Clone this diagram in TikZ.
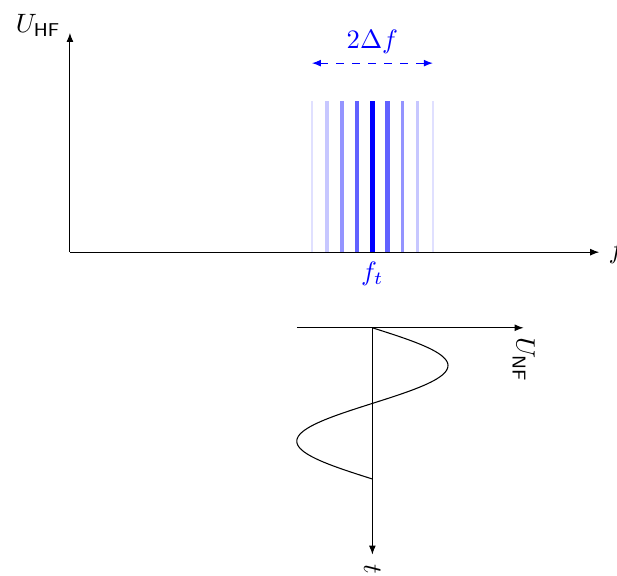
\documentclass[tikz,border=0pt]{standalone}
\usepackage{amsmath,amssymb}
\usepackage{tikz}
\usetikzlibrary{arrows.meta,positioning,calc}

\tikzset{
  axis/.style={-{Latex[length=3.4pt,width=2.6pt]}},
  spread/.style={blue,dashed,{Latex[length=3.4pt,width=2.6pt]}-{Latex[length=3.4pt,width=2.6pt]}},
}

\begin{document}
\begin{tikzpicture}[x=0.5cm,y=0.5cm]
  \useasboundingbox (-1.85,-8.55) rectangle (14.47,6.67);
  % spectrum lines around the carrier
  \foreach \k/\op/\lw in {-4/12/1.0,-3/22/1.15,-2/42/1.4,-1/62/1.65,0/100/2.0,1/62/1.65,2/42/1.4,3/22/1.15,4/12/1.0}
    \draw[blue!\op,line width=\lw pt] ({8+0.4*\k},0) -- ({8+0.4*\k},4);
  \coordinate (O) at (0,0);
  \coordinate (fend) at (14,0);
  \coordinate (uend) at (0,5.8);
  \coordinate (ft) at (8,0);
  \draw[axis] (O) -- (fend) node[right] (flab) {$f$};
  \draw[axis] (O) -- (uend) node[anchor=base east] (uhf) {$U_{\textsf{HF}}$};
  \node[blue,below] (ftlab) at (ft) {$f_t$};
  \coordinate (dl) at (6.4,5);
  \coordinate (dr) at (9.6,5);
  \draw[spread] (dl) -- (dr) node[midway,above] (dflab) {$2\Delta f$};
  % modulating signal
  \coordinate (ul) at (6,-2);
  \coordinate (ur) at (12,-2);
  \coordinate (tt) at (8,-2);
  \coordinate (tb) at (8,-8);
  \draw[axis] (ul) -- (ur) node[rotate=-90,anchor=west] (unf) {$U_{\textsf{NF}}$};
  \draw[axis] (tt) -- (tb) node[rotate=-90,anchor=west] (tlab) {$t$};
  \draw[smooth,samples=90,domain=0:4,variable=\t] plot ({8+2*sin(90*\t)},{-2-\t});
\end{tikzpicture}
\end{document}
